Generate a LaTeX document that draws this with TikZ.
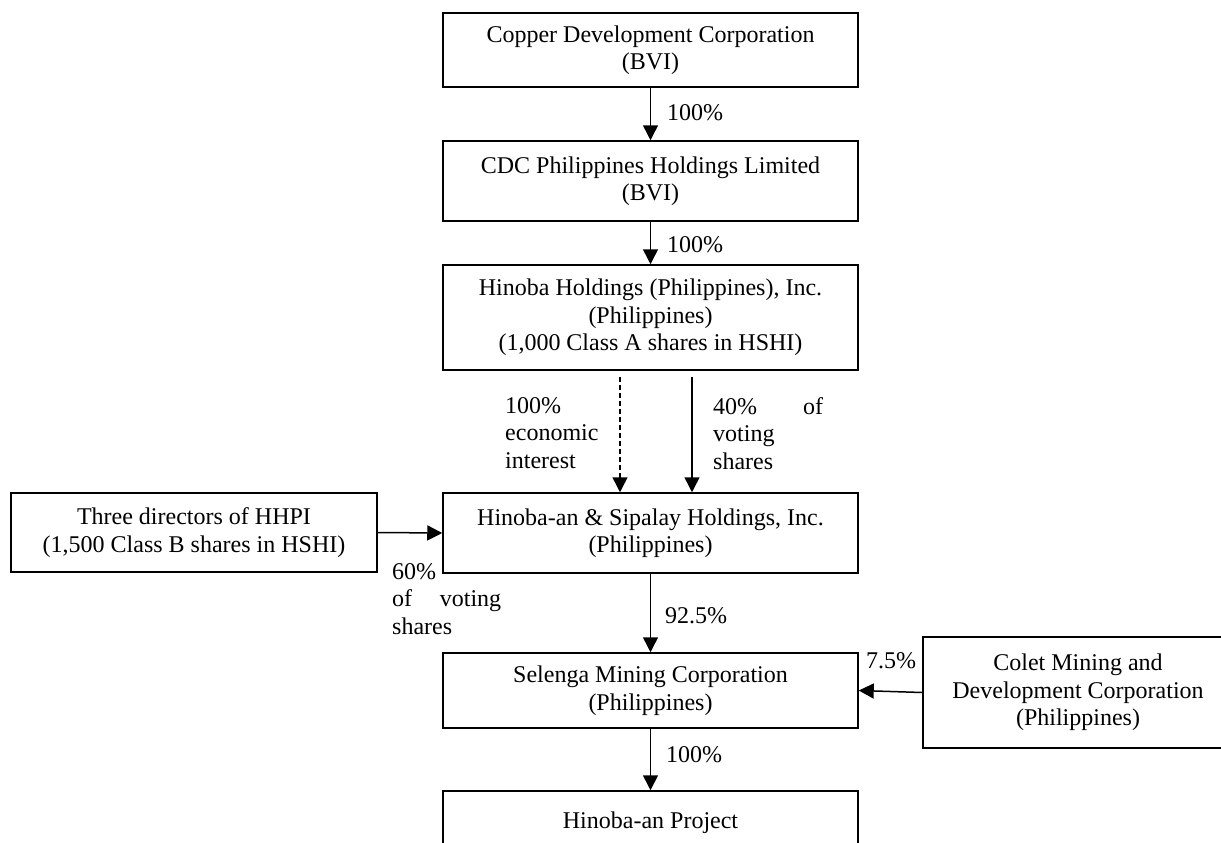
\documentclass[tikz,border=0pt]{standalone}
\usepackage{fontspec}
\setmainfont{Liberation Serif}
\usepackage{tikz}
\usetikzlibrary{arrows.meta,positioning}
\newcommand{\boxfont}{\fontsize{24}{27.5}\selectfont}
\tikzstyle{entity} = [draw, line width=1.5pt, align=center, inner sep=0pt, font=\boxfont, minimum width=415pt]
\tikzstyle{arrow} = [line width=1.5pt, -{Triangle[length=15pt,width=15pt]}]
\tikzstyle{pct} = [anchor=base west, inner sep=0pt, font=\boxfont]
\tikzstyle{note} = [anchor=north west, inner sep=0pt, font=\boxfont, align=left]

\begin{document}
\begin{tikzpicture}[x=1pt, y=-1pt]
\useasboundingbox (0,0) rectangle (1221,843);
\clip (0,0) rectangle (1221,843);

% Ownership chain
\node[entity, minimum height=74pt] (cdc) at (650.5,50) {Copper Development Corporation\\(BVI)};
\node[entity, minimum height=80pt] (cdcph) at (650.5,181) {CDC Philippines Holdings Limited\\(BVI)};
\node[entity, minimum height=105pt] (hhpi) at (650.5,317.5) {Hinoba Holdings (Philippines), Inc.\\(Philippines)\\(1,000 Class A shares in HSHI)};
\node[entity, minimum height=80pt] (hshi) at (650.5,533) {Hinoba-an \& Sipalay Holdings, Inc.\\(Philippines)};
\node[entity, minimum height=75pt] (smc) at (650.5,690.5) {Selenga Mining Corporation\\(Philippines)};
\node[entity, minimum height=64pt] (proj) at (650.5,823) {Hinoba-an Project};

% Side holders
\node[entity, minimum width=366pt, minimum height=79pt] (dirs) at (194,532.5) {Three directors of HHPI\\(1,500 Class B shares in HSHI)};
\node[entity, minimum width=310pt, minimum height=111pt] (colet) at (1078,692.5) {Colet Mining and\\Development Corporation\\(Philippines)};

% Arrows
\draw[arrow] (cdc.south) -- (cdcph.north);
\draw[arrow] (cdcph.south) -- (hhpi.north);
\coordinate (ecotop) at (620,377);
\coordinate (votetop) at (692,377);
\draw[arrow, dash pattern=on 5pt off 3pt] (ecotop) -- (ecotop |- hshi.north);
\draw[arrow] (votetop) -- (votetop |- hshi.north);
\draw[arrow] (dirs.east) -- (hshi.west);
\draw[arrow] (hshi.south) -- (smc.north);
\draw[arrow] (colet.west) -- (smc.east);
\draw[arrow] (smc.south) -- (proj.north);

% Percentages
\node[pct] (p1) at (667,120) {100\%};
\node[pct] (p2) at (667,252) {100\%};
\node[note, text width=100pt] (eco) at (505,397) {100\%\\economic\\interest};
\node[note, text width=110pt] (v40) at (713,397) {40\%\hfill of\\voting\\shares};
\node[note, text width=109pt] (v60) at (392,563) {60\%\\of\hfill voting\\shares};
\node[pct] (p925) at (665,623) {92.5\%};
\node[pct] (p75) at (866,668) {7.5\%};
\node[pct] (p3) at (666,762) {100\%};
\end{tikzpicture}
\end{document}
